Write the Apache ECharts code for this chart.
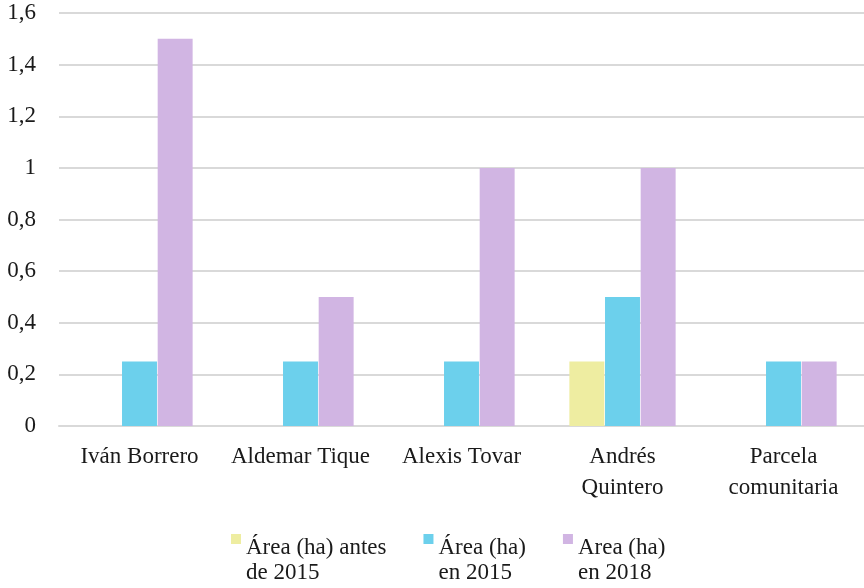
<!DOCTYPE html>
<html>
<head>
<meta charset="utf-8">
<script src="https://cdn.jsdelivr.net/npm/echarts@6/dist/echarts.min.js"></script>
<style>
  html, body { margin: 0; padding: 0; background: #fff; }
  #chart { width: 864px; height: 588px; }
</style>
</head>
<body>
<div id="chart"></div>
<script>
// Owners / plots shown along the x axis
const categories = ['Iván Borrero', 'Aldemar Tique', 'Alexis Tovar', 'Andrés\nQuintero', 'Parcela\ncomunitaria'];

// Series names (legend)
const seriesNames = ['Área (ha) antes\nde 2015', 'Área (ha)\nen 2015', 'Area (ha)\nen 2018'];

// Area values in hectares
const areaAntes2015 = [0, 0, 0, 0.25, 0];
const area2015 = [0.25, 0.25, 0.25, 0.5, 0.25];
const area2018 = [1.5, 0.5, 1, 1, 0.25];

const colors = ['#EEEDA1', '#6CD0EC', '#D1B5E3'];
const fontFamily = "'Liberation Serif', 'DejaVu Serif', serif";

// Legend marker: a square level with the first text line (the trailing point stretches the box downward)
const legendIcon = 'path://M0,0L10,0L10,10L0,10Z M0,53L0.001,53';

const chart = echarts.init(document.getElementById('chart'), null, { renderer: 'canvas' });

const seriesData = [areaAntes2015, area2015, area2018];

chart.setOption({
  animation: false,
  textStyle: { fontFamily: fontFamily, color: '#1a1a1a' },
  grid: { left: 59, right: -4, top: 13, bottom: 162 },
  xAxis: {
    type: 'category',
    data: categories,
    axisTick: { show: false },
    axisLine: { show: true, lineStyle: { color: '#d9d9d9', width: 2 } },
    axisLabel: {
      interval: 0,
      margin: 15,
      fontSize: 23,
      lineHeight: 31,
      color: '#1a1a1a',
      fontFamily: fontFamily
    }
  },
  yAxis: {
    type: 'value',
    min: 0,
    max: 1.6,
    interval: 0.2,
    axisLine: { show: false },
    axisTick: { show: false },
    splitLine: { lineStyle: { color: '#d9d9d9', width: 2 } },
    axisLabel: {
      margin: 23,
      fontSize: 23,
      color: '#1a1a1a',
      fontFamily: fontFamily,
      formatter: function (v) {
        return String(Math.round(v * 10) / 10).replace('.', ',');
      }
    }
  },
  legend: {
    top: 534,
    left: 231,
    padding: 0,
    itemWidth: 10,
    itemHeight: 53,
    itemGap: 37,
    itemTextGap: 5,
    icon: legendIcon,
    textStyle: {
      fontSize: 23,
      lineHeight: 25,
      color: '#1a1a1a',
      fontFamily: fontFamily
    },
    data: seriesNames
  },
  series: seriesData.map(function (d, i) {
    return {
      name: seriesNames[i],
      type: 'bar',
      data: d,
      barGap: '2%',
      barCategoryGap: '34%',
      itemStyle: { color: colors[i] }
    };
  })
});
</script>
</body>
</html>
